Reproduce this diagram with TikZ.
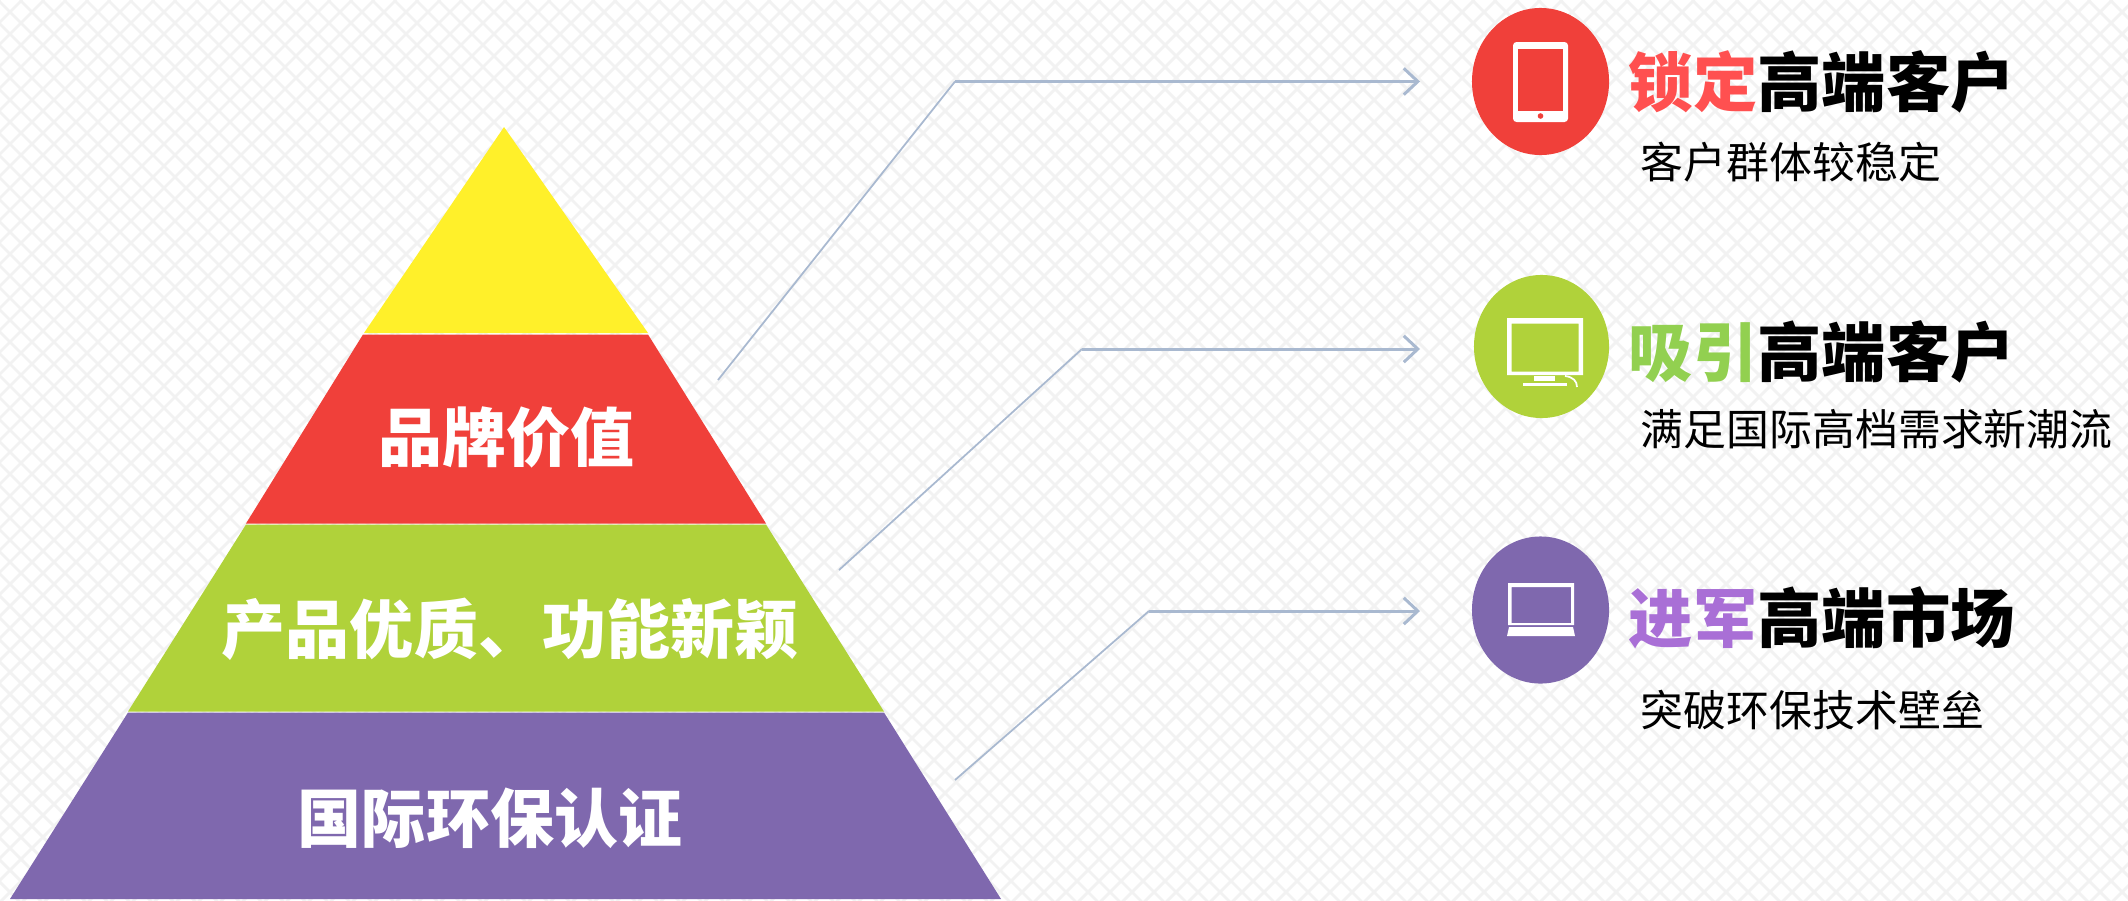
\documentclass[tikz,border=0pt]{standalone}
\usepackage{fontspec}
\usetikzlibrary{arrows.meta,shapes.geometric}
\setmainfont{Noto Sans CJK SC}
\newfontfamily\heavyfont{Noto Sans CJK SC Black}
\definecolor{cyel}{HTML}{FFF02A}
\definecolor{cred}{HTML}{F0403A}
\definecolor{cgrn}{HTML}{B0D23A}
\definecolor{cpur}{HTML}{7F68AE}
\definecolor{ared}{HTML}{FF5050}
\definecolor{agrn}{HTML}{92D050}
\definecolor{apur}{HTML}{A96FD6}
\definecolor{cline}{HTML}{A9B9D0}
\definecolor{cpat}{HTML}{F2F2F2}
\tikzset{
  x=0.01cm,y=-0.01cm,
  bandtext/.style={text=white,font=\fontsize{18.2pt}{18pt}\selectfont\heavyfont,inner sep=0pt,anchor=base},
  title/.style={text=black,font=\fontsize{18.3pt}{18pt}\selectfont\heavyfont,inner sep=0pt,anchor=base west},
  subt/.style={text=black,font=\fontsize{12.2pt}{13pt}\selectfont,inner sep=0pt,anchor=base west},
  disc/.style={ellipse,minimum width=1.37cm,minimum height=1.47cm,inner sep=0pt},
  conn/.style={cline,line width=0.5pt,line join=round},
  connh/.style={cline,line width=0.85pt,-{Straight Barb[length=4pt,width=7.5pt,line width=0.85pt]}},
  icon/.style={fill=white,draw=none}
}
\begin{document}
\begin{tikzpicture}
\useasboundingbox (0,0) rectangle (2128,900);
\fill[white] (0,0) rectangle (2128,900);
\begin{scope}
\clip (0,0) rectangle (2128,900);
\foreach \k in {-42,...,140}{
  \draw[cpat,line width=0.8pt] ({\k*22+20},0) -- ({\k*22+20+904},904);
  \draw[cpat,line width=0.8pt] ({\k*22},0) -- ({\k*22-904},904);
}
\end{scope}
% pyramid
\fill[cyel] (504,127) -- (648,333) -- (364,333) -- cycle;
\fill[cred] (363,334.5) -- (648,334.5) -- (766,523.5) -- (246,523.5) -- cycle;
\fill[cgrn] (246,524.5) -- (766,524.5) -- (884,711.5) -- (128,711.5) -- cycle;
\fill[cpur] (128,712.5) -- (884,712.5) -- (1001,899) -- (10,899) -- cycle;
\node[bandtext] (brand) at (506,461) {品牌价值};
\node[bandtext] (prod) at (510,653) {产品优质、功能新颖};
\node[bandtext] (cert) at (490,842) {国际环保认证};
% connectors
\coordinate (s1) at (718,380); \coordinate (b1) at (955,81.5); \coordinate (e1) at (1420,81.5);
\coordinate (s2) at (839,570); \coordinate (b2) at (1082,349); \coordinate (e2) at (1420,349);
\coordinate (s3) at (955,780); \coordinate (b3) at (1149,611); \coordinate (e3) at (1420,611);
\draw[conn] (s1) -- (b1); \draw[connh] (b1) -- (e1);
\draw[conn] (s2) -- (b2); \draw[connh] (b2) -- (e2);
\draw[conn] (s3) -- (b3); \draw[connh] (b3) -- (e3);
% discs
\node[disc,fill=cred] (d1) at (1540.5,81.5) {};
\node[disc,fill=cgrn,minimum width=1.35cm,minimum height=1.43cm] (d2) at (1541.5,346.5) {};
\node[disc,fill=cpur] (d3) at (1540.5,610) {};
% tablet
\fill[icon,rounded corners=1pt] (1513,42) rectangle (1568,122);
\fill[cred] (1518,49) rectangle (1563,111);
\fill[cred] (1540.5,116) circle (2.8);
% monitor
\fill[icon,even odd rule] (1507,318) rectangle (1583,375) (1511.5,323.5) rectangle (1578.7,371.5);
\fill[icon] (1533.5,376) rectangle (1555,381);
\fill[icon] (1522.5,382.5) rectangle (1567,385.5);
\draw[white,line width=0.5pt] (1565,376) .. controls (1573,377) and (1577,381) .. (1577,387);
% laptop
\fill[icon,even odd rule] (1508,583) rectangle (1574,625) (1511.5,587) rectangle (1571,623);
\fill[icon] (1509,627) -- (1573,627) -- (1575,636) -- (1507,636) -- cycle;
% titles
\node[title] (t1) at (1628,106) {\textcolor{ared}{锁定}高端客户};
\node[title] (t2) at (1628,376) {\textcolor{agrn}{吸引}高端客户};
\node[title] (t3) at (1628,642) {\textcolor{apur}{进军}高端市场};
\node[subt] (p1) at (1640,178.5) {客户群体较稳定};
\node[subt] (p2) at (1640,445) {满足国际高档需求新潮流};
\node[subt] (p3) at (1640,726) {突破环保技术壁垒};
\end{tikzpicture}
\end{document}
